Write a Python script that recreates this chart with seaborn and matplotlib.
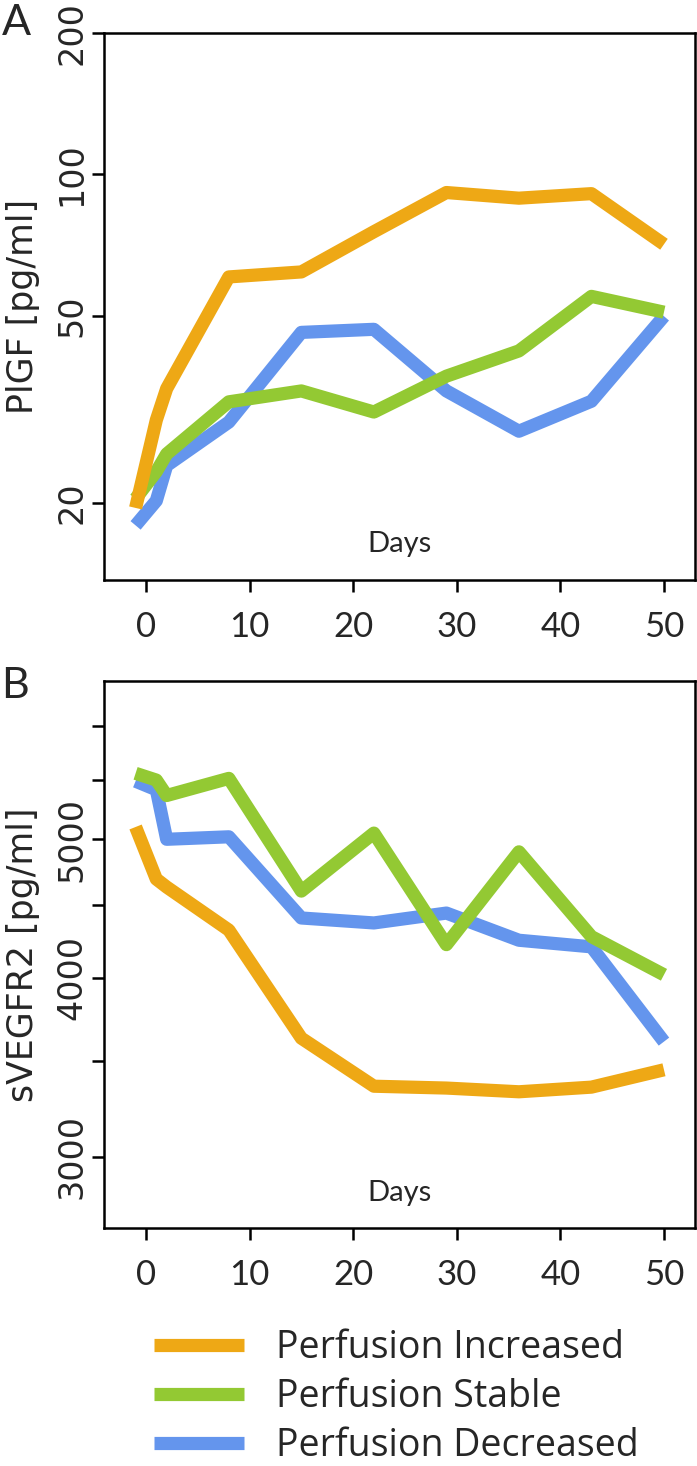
"""
Biomarcadores (PlGF e sVEGFR2) ao longo do tempo por grupo de perfusão
"""
import matplotlib.pyplot as plt
import seaborn as sns
import pandas as pd

plt.switch_backend('Agg')

# Dados
dias = [-1, 1, 2, 8, 15, 22, 29, 36, 43, 50]
grupos = ['Perfusion Increased', 'Perfusion Stable', 'Perfusion Decreased']
cores = {
    'Perfusion Increased': '#EEA815',
    'Perfusion Stable': '#93C933',
    'Perfusion Decreased': '#6495ED',
}

plgf_increased = [19.5, 30.0, 35.0, 60.5, 62.0, 75.5, 91.5, 89.0, 91.0, 71.0]
plgf_stable = [20.4, 23.3, 25.4, 32.8, 34.6, 31.2, 37.2, 42.1, 55.0, 50.9]
plgf_decreased = [17.9, 20.2, 24.0, 29.7, 46.1, 46.8, 34.6, 28.4, 32.9, 49.9]

svegfr2_increased = [5100, 4690, 4630, 4320, 3630, 3360, 3350, 3330, 3355, 3450]
svegfr2_stable = [5560, 5500, 5365, 5515, 4600, 5050, 4220, 4900, 4275, 4020]
svegfr2_decreased = [5490, 5415, 5000, 5020, 4405, 4370, 4440, 4250, 4205, 3610]

x_ticks = [0, 10, 20, 30, 40, 50]
plgf_ticks = [20, 50, 100, 200]
svegfr2_ticks = [3000, 3500, 4000, 4500, 5000, 5500, 6000]
svegfr2_labels = ['3000', '', '4000', '', '5000', '', '']


def montar_df(series):
    linhas = []
    for grupo, valores in zip(grupos, series):
        for d, v in zip(dias, valores):
            linhas.append({'dia': d, 'valor': v, 'grupo': grupo})
    return pd.DataFrame(linhas)


df_plgf = montar_df([plgf_increased, plgf_stable, plgf_decreased])
df_svegfr2 = montar_df([svegfr2_increased, svegfr2_stable, svegfr2_decreased])

sns.set_style('ticks')
plt.rcParams['font.family'] = ['DejaVu Sans']

fig = plt.figure(figsize=(6.97, 14.66), dpi=100)
ax_a = fig.add_axes([0.1492, 0.6044, 0.848, 0.3731])
ax_b = fig.add_axes([0.1492, 0.1623, 0.848, 0.3731])

# ordem de desenho: azul embaixo, laranja por cima
ordem_desenho = ['Perfusion Decreased', 'Perfusion Stable', 'Perfusion Increased']

for ax, df in [(ax_a, df_plgf), (ax_b, df_svegfr2)]:
    sns.lineplot(data=df, x='dia', y='valor', hue='grupo', hue_order=ordem_desenho,
                 palette=cores, linewidth=9.5, sort=False, errorbar=None,
                 legend=False, solid_capstyle='butt', ax=ax)
    ax.set_yscale('log')
    ax.minorticks_off()
    ax.set_xlim(-4.05, 53.0)
    ax.set_xticks(x_ticks, labels=[str(t) for t in x_ticks], fontfamily='Lato')
    for s in ax.spines.values():
        s.set_linewidth(1.8)
        s.set_color('black')
    ax.tick_params(axis='x', length=8.5, width=1.8, pad=14, labelsize=25, color='black')
    ax.tick_params(axis='y', length=8.5, width=1.8, pad=3, labelsize=24, color='black')
    ax.set_xlabel('')
    ax.text(0.5, 0.065, 'Days', transform=ax.transAxes, ha='center', va='center',
            fontsize=21, family='Lato')

# Painel A
ax_a.set_ylim(13.7, 200)
ax_a.set_yticks(plgf_ticks, labels=[str(t) for t in plgf_ticks], rotation=90, va='center')
ax_a.set_ylabel('PlGF [pg/ml]', fontsize=25)
ax_a.yaxis.set_label_coords(-0.108, 0.5)
ax_a.minorticks_off()

# Painel B
ax_b.set_ylim(2674, 6450)
ax_b.set_yticks(svegfr2_ticks, labels=svegfr2_labels, rotation=90, va='center')
ax_b.set_ylabel('sVEGFR2 [pg/ml]', fontsize=25)
ax_b.yaxis.set_label_coords(-0.108, 0.5)
ax_b.minorticks_off()

fig.text(0.002, 0.997, 'A', fontsize=31, va='top', family='Lato')
fig.text(0.002, 0.545, 'B', fontsize=31, va='top', family='Lato')

# Legenda
linhas = ax_b.get_lines()[:3][::-1]
fig.legend(linhas, grupos, loc='upper left', bbox_to_anchor=(0.221, 0.0935),
           frameon=False, prop={'family': 'Open Sans', 'size': 27}, handlelength=2.4,
           handletextpad=0.86, labelspacing=0.3, borderpad=0, borderaxespad=0)

fig.savefig('out.png', dpi=100, facecolor='white')
